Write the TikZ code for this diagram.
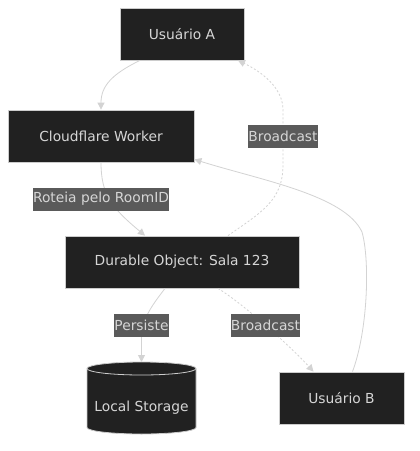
\documentclass[tikz,border=0pt]{standalone}
\usepackage{fontspec}
\setmainfont{DejaVu Sans}
\usetikzlibrary{arrows.meta}
\definecolor{nodefill}{HTML}{212121}
\definecolor{nodeline}{HTML}{CCCCCC}
\definecolor{textc}{HTML}{D6D6D6}
\definecolor{lblfill}{HTML}{5A5A5A}
\definecolor{edgec}{HTML}{D3D3D3}
\begin{document}
\begin{tikzpicture}[x=1pt,y=1pt,font=\fontsize{13.8}{16}\selectfont,
  box/.style={draw=nodeline, line width=0.8pt, fill=nodefill, text=textc, minimum height=52pt, inner sep=0pt},
  lbl/.style={fill=lblfill, text=textc, inner xsep=0.3pt, inner ysep=0pt, minimum height=23pt},
  conn/.style={draw=edgec, line width=0.8pt, -{Triangle[length=7pt,width=7pt]}},
  dconn/.style={conn, dash pattern=on 2pt off 2pt}]
\fill[white] (0,0) rectangle (420,-451);
\useasboundingbox (0,0) rectangle (420,-451);
% nodes
\node[box, minimum width=124pt] (ua) at (182,-34) {Usuário A};
\node[box, minimum width=186pt] (cw) at (101,-136) {Cloudflare Worker};
\node[box, minimum width=234pt] (do) at (182,-262) {Durable Object: Sala 123};
\node[box, minimum width=125pt] (ub) at (341.5,-398) {Usuário B};
% cylinder
\path[draw=nodeline, line width=0.8pt, fill=nodefill] (87,-368.5) -- (87,-427.5)
  arc[start angle=180,end angle=360,x radius=54.5,y radius=6.5] -- (196,-368.5)
  arc[start angle=0,end angle=180,x radius=54.5,y radius=6.5] -- cycle;
\draw[nodeline, line width=0.8pt] (87,-368.5) arc[start angle=180,end angle=360,x radius=54.5,y radius=6.5];
\node[text=textc] (ls) at (141.5,-408) {Local Storage};
\coordinate (lstop) at (141.5,-362);
% connectors
\draw[conn] ([xshift=-42pt]ua.south) .. controls (112,-74) and (101,-86) .. (cw.north);
\draw[conn] (cw.south) .. controls (101,-195) and (112,-208) .. ([xshift=-37pt]do.north);
\draw[dconn] ([xshift=46pt]do.north) .. controls (262,-212) and (283,-200) .. (283,-165) -- (283,-110)
  .. controls (283,-88) and (262,-72) .. ([xshift=56pt]ua.south);
\draw[conn] ([xshift=-17pt]do.south) .. controls (150,-308) and (141.5,-320) .. (141.5,-340) -- (lstop);
\draw[dconn] ([xshift=36pt]do.south) .. controls (245,-305) and (292,-348) .. ([xshift=-28pt]ub.north);
\draw[conn] ([xshift=11pt]ub.north) .. controls (368,-330) and (370,-260) .. (362,-232)
  .. controls (345,-195) and (260,-180) .. ([yshift=3pt]cw.south east);
% labels
\node[lbl] (l1) at (283,-136.5) {Broadcast};
\node[lbl] (l2) at (101,-199) {Roteia pelo RoomID};
\node[lbl] (l3) at (141.5,-325.5) {Persiste};
\node[lbl] (l4) at (265.5,-325.5) {Broadcast};
\end{tikzpicture}
\end{document}
